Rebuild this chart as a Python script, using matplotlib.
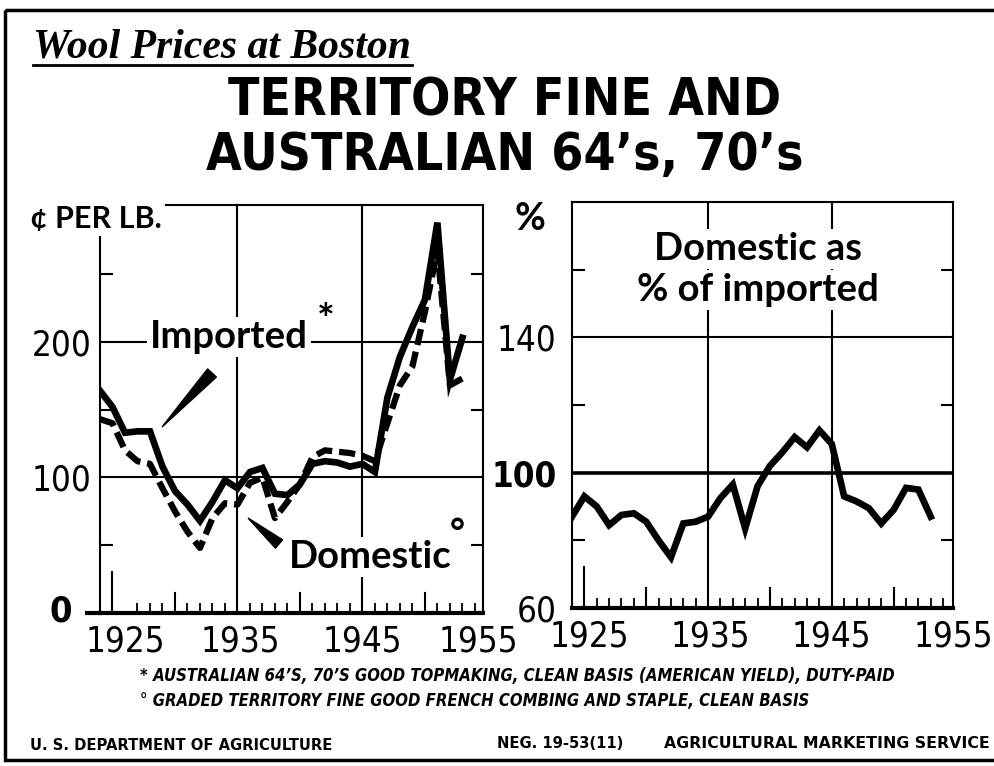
import matplotlib
matplotlib.use('Agg')
import matplotlib.pyplot as plt
import matplotlib.transforms as mtransforms
from matplotlib import font_manager
from matplotlib.patches import Polygon, Rectangle
from matplotlib.lines import Line2D

# datos (centavos por libra y porcentaje)
years = list(range(1924, 1954))
imported = [164, 152, 133, 134, 134, 108, 90, 80, 68, 82, 98, 92, 104, 107, 88,
            87, 95, 110, 112, 111, 108, 110, 104, 159, 189, 211, 231, 288, 172, 203]
domestic = [143, 140, 120, 112, 110, 92, 75, 60, 48, 70, 81, 80, 96, 100, 70,
            82, 95, 115, 120, 119, 118, 116, 112, 140, 168, 182, 222, 268, 168, 173]
percent = [87, 93, 90, 84.5, 87.5, 88, 85.5, 80, 75, 85, 85.5, 87, 92.5, 96.5, 83.5,
           96, 102, 106, 110.5, 107.5, 112.5, 108.5, 93, 91.5, 89.5, 85, 89, 95.5, 95, 87]

x_labels = ['1925', '1935', '1945', '1955']
left_label_pos = [1926, 1935.2, 1945, 1954.3]
right_label_pos = [1925.4, 1935.2, 1945, 1954.8]
left_ticks = [0, 100, 200]
right_ticks = [60, 100, 140]

nombres = {f.name for f in font_manager.fontManager.ttflist}
if 'Liberation Sans Narrow' in nombres:
    angosta = 'Liberation Sans Narrow'
    num_size = 29
    foot_size = 12
    title_size = 40
else:
    angosta = 'DejaVu Sans'
    num_size = 25
    foot_size = 12
    title_size = 37
label_font = 'Lato' if 'Lato' in nombres else 'DejaVu Sans'


def marco(ax, xmax, ymin, ymax, label_pos, yt, ymin_t, ypad):
    ax.set_xlim(1924, xmax)
    ax.set_ylim(ymin, ymax)
    for s in ax.spines.values():
        s.set_linewidth(1.5)
    ax.spines['bottom'].set_linewidth(3)
    ax.set_xticks(label_pos, x_labels)
    ax.set_xticks(range(1924, 1955), minor=True)
    ax.tick_params(axis='x', which='minor', direction='in', length=7, width=1.3)
    ax.tick_params(axis='x', which='major', direction='in', length=0, pad=8,
                   labelsize=num_size)
    ax.set_yticks(yt)
    ax.set_yticks(ymin_t, minor=True)
    ax.tick_params(axis='y', which='major', length=0, pad=ypad, labelsize=num_size)
    ax.tick_params(axis='y', which='minor', direction='in', length=9, width=1.5,
                   left=True, right=True)
    for lab in ax.get_xticklabels() + ax.get_yticklabels():
        lab.set_family(angosta)
        lab.set_fontstretch('condensed')
    for yr in [1930, 1940, 1950]:
        ax.axvline(yr, ymin=0, ymax=0.05, color='black', lw=1.5)
    ax.axvline(1925, ymin=0, ymax=0.1, color='black', lw=1.5)
    ax.axvline(1935, color='black', lw=1.5, zorder=1)
    ax.axvline(1945, color='black', lw=1.5, zorder=1)


def cuna(fig, tr, tip, base, ancho):
    dx = base[0] - tip[0]
    dy = base[1] - tip[1]
    d = (dx ** 2 + dy ** 2) ** 0.5
    nx, ny = -dy / d * ancho / 2, dx / d * ancho / 2
    pts = [tip, (base[0] + nx, base[1] + ny), (base[0] - nx, base[1] - ny)]
    fig.add_artist(Polygon(pts, closed=True, color='black', transform=tr))


def grafico():
    fig = plt.figure(figsize=(9.94, 7.66), dpi=100)
    px = mtransforms.Affine2D().scale(1 / 994, -1 / 766).translate(0, 1) + fig.transFigure

    ax1 = fig.add_axes([100 / 994, 1 - 613 / 766, 383 / 994, 408 / 766])
    marco(ax1, 1954.65, 0, 301, left_label_pos, left_ticks[1:], [50, 150, 250], 6)
    ax1.axhline(100, color='black', lw=1.5, zorder=1)
    ax1.axhline(200, color='black', lw=1.5, zorder=1)
    ax1.plot(years, imported, color='black', lw=4.8, solid_joinstyle='miter', zorder=4)
    ax1.plot(years, domestic, color='black', lw=4.5, linestyle=(0, (2.6, 1.1)), zorder=3)
    fig.add_artist(Line2D([87, 100], [613, 613], color='black', lw=3, transform=px))
    # el cero va aparte, mas a la izquierda
    fig.text(72, 612, str(left_ticks[0]), transform=px, ha='right', va='center',
             family=angosta, stretch='condensed', weight='bold', size=num_size + 1)

    ax2 = fig.add_axes([572 / 994, 1 - 608 / 766, 381 / 994, 406 / 766])
    marco(ax2, 1954.7, 60, 180, right_label_pos, right_ticks, [80, 120, 160], 11)
    ax2.axhline(140, color='black', lw=1.5, zorder=1)
    ax2.axhline(100, color='black', lw=2.6, zorder=1)
    ax2.plot(years, percent, color='black', lw=4.8, solid_joinstyle='miter', zorder=4)
    ax2.get_yticklabels()[1].set_fontweight('bold')

    blanco = dict(facecolor='white', edgecolor='none', pad=2)

    # bordes y titulos
    fig.add_artist(Rectangle((5, 10), 1010, 750, fill=False, lw=2.5,
                             edgecolor='black', transform=px))
    fig.text(33, 48, 'Wool Prices at Boston', transform=px, ha='left', va='center',
             family='Liberation Serif', style='italic', weight='bold', size=30)
    fig.add_artist(Line2D([33, 412], [65, 65], color='black', lw=2, transform=px))
    fig.text(505, 101, 'TERRITORY FINE AND', transform=px, ha='center', va='center',
             family=angosta, stretch='condensed', weight='bold', size=title_size)
    fig.text(505, 156, 'AUSTRALIAN 64\u2019s, 70\u2019s', transform=px, ha='center',
             va='center', family=angosta, stretch='condensed', weight='bold',
             size=title_size)

    fig.text(30, 219, '\u00a2 PER LB.', transform=px, ha='left', va='center',
             family=label_font, weight='bold', size=22, bbox=blanco)
    fig.text(530, 219, '%', transform=px, ha='center', va='center',
             family=label_font, weight='bold', size=27)

    # etiquetas de las series
    fig.text(229, 337, 'Imported', transform=px, ha='center', va='center',
             family=label_font, weight='bold', size=27.5, bbox=blanco)
    fig.text(326, 322, '*', transform=px, ha='center', va='center',
             family=label_font, weight='bold', size=30)
    cuna(fig, px, (162, 427), (212, 373), 12)
    fig.text(370, 557, 'Domestic', transform=px, ha='center', va='center',
             family=label_font, weight='bold', size=27.5, bbox=blanco)
    fig.text(457, 534, '\u00b0', transform=px, ha='center', va='center',
             family=label_font, weight='bold', size=26)
    cuna(fig, px, (248, 518), (279, 544), 11)

    fig.text(758, 249, 'Domestic as', transform=px, ha='center', va='center',
             family=label_font, weight='bold', size=27.5, bbox=blanco)
    fig.text(758, 290, '% of imported', transform=px, ha='center', va='center',
             family=label_font, weight='bold', size=27.5, bbox=blanco)

    # notas al pie
    fig.text(140, 676, '* AUSTRALIAN 64\u2019S, 70\u2019S GOOD TOPMAKING, CLEAN BASIS '
             '(AMERICAN YIELD), DUTY-PAID', transform=px, ha='left', va='center',
             family=angosta, stretch='condensed', style='italic', weight='bold',
             size=foot_size)
    fig.text(140, 701, '\u00b0 GRADED TERRITORY FINE GOOD FRENCH COMBING AND STAPLE, '
             'CLEAN BASIS', transform=px, ha='left', va='center', family=angosta,
             stretch='condensed', style='italic', weight='bold', size=foot_size)
    fig.text(30, 746, 'U. S. DEPARTMENT OF AGRICULTURE', transform=px, ha='left',
             va='center', family=angosta, weight='bold', size=10.6)
    fig.text(497, 744, 'NEG. 19-53(11)', transform=px, ha='left',
             va='center', family=angosta, weight='bold', size=10.6)
    fig.text(990, 744, 'AGRICULTURAL MARKETING SERVICE', transform=px,
             ha='right', va='center', family=angosta, weight='bold', size=11.3)

    fig.savefig('out.png', dpi=100, facecolor='white')


if __name__ == '__main__':
    grafico()
